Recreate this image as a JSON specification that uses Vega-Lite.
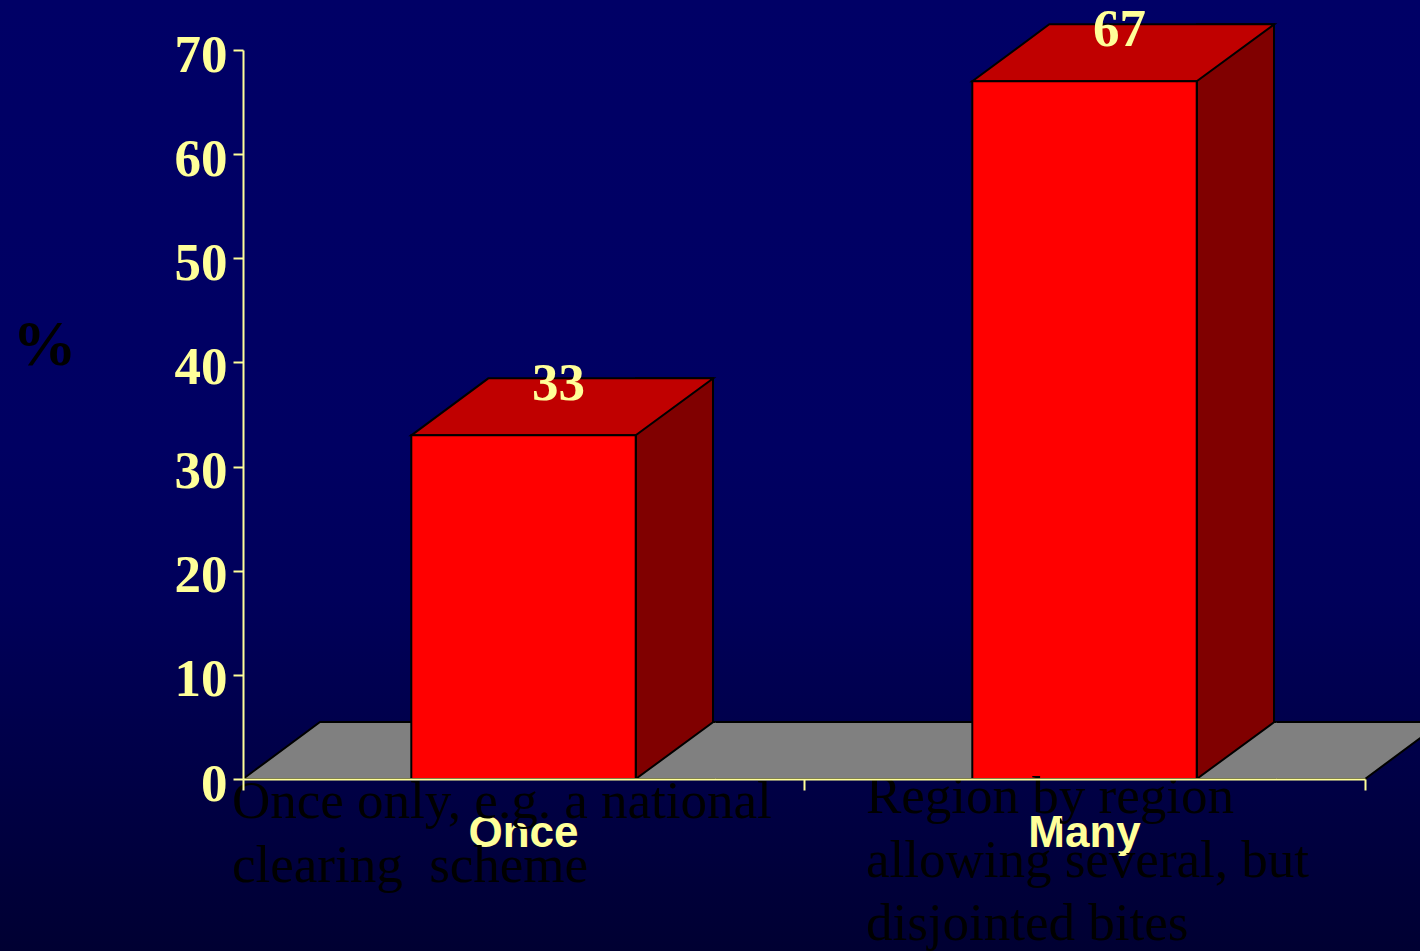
{
  "$schema": "https://vega.github.io/schema/vega-lite/v6.json",
  "width": 1420,
  "height": 951,
  "autosize": {"type": "none"},
  "padding": 0,
  "background": "#00004a",
  "config": {
    "view": {
      "stroke": null,
      "fill": {"gradient": "linear", "x1": 0, "y1": 0, "x2": 0, "y2": 1,
        "stops": [
          {"offset": 0, "color": "#000066"},
          {"offset": 0.47, "color": "#000062"},
          {"offset": 0.63, "color": "#00005a"},
          {"offset": 1, "color": "#000032"}
        ]}
    }
  },
  "data": {"values": [
    {"cat": "Once", "value": 33, "desc": "Once only, e.g. a national\nclearing\u00a0 scheme"},
    {"cat": "Many", "value": 67, "desc": "Region by region\nallowing several, but\ndisjointed bites"}
  ]},
  "resolve": {"axis": {"x": "independent"}},
  "layer": [
    {
      "data": {"values": [{"piece": "floor"}]},
      "mark": {"type": "point", "shape": "M-280.5 0 L-203.5 -57 L918.5 -57 L841.5 0 Z", "size": 4, "filled": true, "fill": "#808080", "stroke": "#000000", "strokeWidth": 2, "opacity": 1},
      "encoding": {
        "x": {"datum": "Once", "type": "nominal", "scale": {"domain": ["Once", "Many"], "range": [243, 1365], "paddingInner": 0, "paddingOuter": 0}, "axis": null},
        "y": {"datum": 0, "type": "quantitative", "scale": {"domain": [0, 70], "range": [779, 50], "nice": false}, "title": "%"}
      }
    },
    {
      "mark": {"type": "bar", "width": 77, "xOffset": 151, "yOffset": -57, "fill": "#800000", "stroke": "#000000", "strokeWidth": 2},
      "encoding": {
        "x": {"field": "cat", "type": "nominal", "scale": {"domain": ["Once", "Many"], "range": [243, 1365], "paddingInner": 0, "paddingOuter": 0}, "axis": null},
        "y": {"field": "value", "type": "quantitative", "scale": {"domain": [0, 70], "range": [779, 50], "nice": false}, "title": "%"},
        "y2": {"datum": 0}
      }
    },
    {
      "mark": {"type": "point", "shape": "M-112.2 0 L-35.2 -57 L189.8 -57 L112.2 0 Z", "size": 4, "filled": true, "fill": "#C00000", "stroke": "#000000", "strokeWidth": 2, "opacity": 1},
      "encoding": {
        "x": {"field": "cat", "type": "nominal", "scale": {"domain": ["Once", "Many"], "range": [243, 1365], "paddingInner": 0, "paddingOuter": 0}, "axis": null},
        "y": {"field": "value", "type": "quantitative", "scale": {"domain": [0, 70], "range": [779, 50], "nice": false}, "title": "%"}
      }
    },
    {
      "mark": {"type": "point", "shape": "M192 0 L112.2 0 L189.8 -57 L192 -57", "size": 4, "filled": true, "fill": "#808080", "stroke": "#000000", "strokeWidth": 2, "opacity": 1},
      "encoding": {
        "x": {"field": "cat", "type": "nominal", "scale": {"domain": ["Once", "Many"], "range": [243, 1365], "paddingInner": 0, "paddingOuter": 0}, "axis": null},
        "y": {"datum": 0, "type": "quantitative", "scale": {"domain": [0, 70], "range": [779, 50], "nice": false}, "title": "%"}
      }
    },
    {
      "mark": {"type": "bar", "width": {"band": 0.4}, "fill": "#FF0000", "stroke": "#000000", "strokeWidth": 2},
      "encoding": {
        "x": {"field": "cat", "type": "nominal", "scale": {"domain": ["Once", "Many"], "range": [243, 1365], "paddingInner": 0, "paddingOuter": 0},
          "axis": {"orient": "bottom", "offset": -172, "labels": false, "domain": true, "domainColor": "#FFFF99", "domainWidth": 2, "ticks": true, "tickBand": "extent", "tickColor": "#FFFF99", "tickWidth": 2, "tickSize": 11, "title": null, "grid": false, "zindex": 1}},
        "y": {"field": "value", "type": "quantitative", "scale": {"domain": [0, 70], "range": [779, 50], "nice": false}, "title": "%",
          "axis": {"orient": "left", "offset": -243, "values": [0, 10, 20, 30, 40, 50, 60, 70], "domainColor": "#FFFF99", "domainWidth": 2, "tickColor": "#FFFF99", "tickWidth": 2, "tickSize": 10, "labelFont": "Liberation Serif", "labelFontSize": 53, "labelFontWeight": "bold", "labelColor": "#FFFF99", "labelBaseline": "alphabetic", "labelOffset": 21, "labelPadding": 6, "labelFlush": false, "labelOverlap": false, "labelBound": false, "grid": false, "titleFont": "Liberation Serif", "titleFontSize": 64, "titleFontWeight": "bold", "titleColor": "#000000", "titleAngle": 0, "titleAlign": "center", "titleBaseline": "alphabetic", "titleX": -199, "titleY": 364, "zindex": 1}}
      }
    },
    {
      "mark": {"type": "text", "font": "Liberation Serif", "fontSize": 53, "fontWeight": "bold", "fill": "#FFFF99", "align": "center", "baseline": "alphabetic", "dx": 35, "dy": -35},
      "encoding": {
        "x": {"field": "cat", "type": "nominal", "scale": {"domain": ["Once", "Many"], "range": [243, 1365], "paddingInner": 0, "paddingOuter": 0}, "axis": null},
        "y": {"field": "value", "type": "quantitative", "scale": {"domain": [0, 70], "range": [779, 50], "nice": false}, "title": "%"},
        "text": {"field": "value", "type": "quantitative"}
      }
    },
    {
      "transform": [{"filter": "datum.cat === 'Once'"}],
      "mark": {"type": "text", "font": "Liberation Serif", "fontSize": 53, "fill": "#000000", "align": "left", "baseline": "alphabetic", "lineBreak": "\n", "lineHeight": 63.5, "dx": -291.5, "dy": 39},
      "encoding": {
        "x": {"field": "cat", "type": "nominal", "scale": {"domain": ["Once", "Many"], "range": [243, 1365], "paddingInner": 0, "paddingOuter": 0}, "axis": null},
        "y": {"datum": 0, "type": "quantitative", "scale": {"domain": [0, 70], "range": [779, 50], "nice": false}, "title": "%"},
        "text": {"field": "desc", "type": "nominal"}
      }
    },
    {
      "transform": [{"filter": "datum.cat === 'Many'"}],
      "mark": {"type": "text", "font": "Liberation Serif", "fontSize": 53, "fill": "#000000", "align": "left", "baseline": "alphabetic", "lineBreak": "\n", "lineHeight": 63.5, "dx": -218.5, "dy": 34},
      "encoding": {
        "x": {"field": "cat", "type": "nominal", "scale": {"domain": ["Once", "Many"], "range": [243, 1365], "paddingInner": 0, "paddingOuter": 0},
          "axis": {"orient": "bottom", "offset": -172, "domain": false, "ticks": false, "labels": true, "labelFont": "Liberation Sans", "labelFontSize": 44, "labelFontWeight": "bold", "labelColor": "#FFFF99", "labelBaseline": "alphabetic", "labelPadding": 67, "labelAngle": 0, "title": null, "grid": false, "zindex": 0}},
        "y": {"datum": 0, "type": "quantitative", "scale": {"domain": [0, 70], "range": [779, 50], "nice": false}, "title": "%"},
        "text": {"field": "desc", "type": "nominal"}
      }
    }
  ]
}
